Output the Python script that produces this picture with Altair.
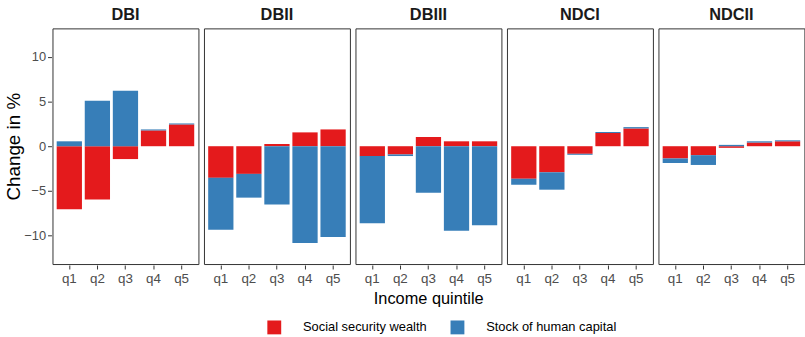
import altair as alt
import pandas as pd

schemes = ["DBI", "DBII", "DBIII", "NDCI", "NDCII"]
quintiles = ["q1", "q2", "q3", "q4", "q5"]
components = ["Social security wealth", "Stock of human capital"]

ssw_DBI = [-7.05, -5.98, -1.44, 1.77, 2.44]
ssw_DBII = [-3.54, -3.10, 0.25, 1.55, 1.88]
ssw_DBIII = [-1.11, -0.92, 1.03, 0.55, 0.55]
ssw_NDCI = [-3.65, -2.92, -0.85, 1.48, 1.99]
ssw_NDCII = [-1.37, -1.00, -0.18, 0.41, 0.55]

hc_DBI = [0.55, 5.09, 6.20, 0.11, 0.11]
hc_DBII = [-5.83, -2.66, -6.53, -10.85, -10.18]
hc_DBIII = [-7.52, -0.18, -5.20, -9.48, -8.86]
hc_NDCI = [-0.67, -1.95, -0.11, 0.11, 0.15]
hc_NDCII = [-0.51, -1.10, 0.15, 0.14, 0.11]

ssw = {"DBI": ssw_DBI, "DBII": ssw_DBII, "DBIII": ssw_DBIII, "NDCI": ssw_NDCI, "NDCII": ssw_NDCII}
hc = {"DBI": hc_DBI, "DBII": hc_DBII, "DBIII": hc_DBIII, "NDCI": hc_NDCI, "NDCII": hc_NDCII}

rows = []
for s in schemes:
    for i, q in enumerate(quintiles):
        rows.append({"scheme": s, "quintile": q, "component": components[0], "value": ssw[s][i], "ord": 0})
        rows.append({"scheme": s, "quintile": q, "component": components[1], "value": hc[s][i], "ord": 1})
df = pd.DataFrame(rows)

FONT = "Liberation Sans"

base = alt.Chart(df).mark_bar().encode(
    x=alt.X("quintile:N", title=None, sort=quintiles,
            scale=alt.Scale(paddingInner=0.1, paddingOuter=0.15),
            axis=alt.Axis(labelAngle=0, labelFontSize=13.5, labelColor="#4D4D4D",
                          tickColor="#333333", tickSize=4, labelPadding=3, domain=False)),
    y=alt.Y("value:Q", stack="zero",
            scale=alt.Scale(domain=[-13.2, 13.2], nice=False, zero=False),
            axis=alt.Axis(values=[-10, -5, 0, 5, 10], title="Change in %", grid=False,
                          labelFontSize=13, labelColor="#4D4D4D", tickColor="#333333",
                          tickSize=4, labelPadding=2, domain=False,
                          titleFontSize=19, titleFontWeight="normal",
                          titleColor="#000000", titlePadding=0)),
    color=alt.Color("component:N",
                    scale=alt.Scale(domain=components, range=["#E41A1C", "#377EB8"]),
                    legend=alt.Legend(title=None, orient="none", direction="horizontal",
                                      legendX=217, legendY=295,
                                      symbolType="square", symbolSize=196,
                                      symbolStrokeWidth=0, labelFontSize=13,
                                      labelColor="#000000", labelOffset=22, columnPadding=24)),
    order=alt.Order("ord:Q"),
).properties(width=147.4, height=238)

chart = base.facet(
    column=alt.Column("scheme:N", sort=schemes, title="Income quintile",
                      header=alt.Header(labelOrient="top", titleOrient="bottom",
                                        labelFontSize=16.5, labelFontWeight="bold",
                                        labelColor="#1A1A1A", labelPadding=4,
                                        titleFontSize=16.5, titleFontWeight="normal",
                                        titleColor="#000000", titlePadding=-5)),
    spacing=4,
).configure(
    font=FONT,
    padding={"left": 4, "top": 5, "right": 0, "bottom": 0},
).configure_view(
    stroke="#333333", strokeWidth=1,
)

chart.save("out.html", embed_options={"renderer": "svg", "actions": False})
